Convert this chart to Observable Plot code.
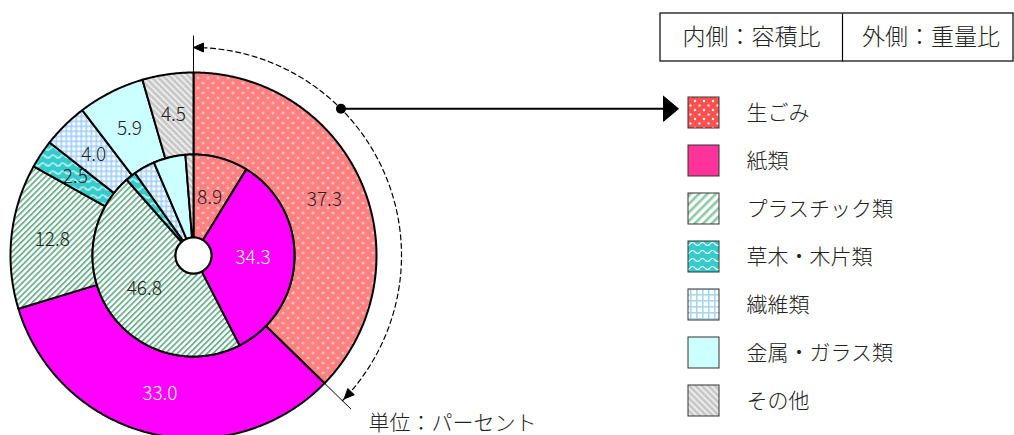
<!DOCTYPE html>
<html><head><meta charset="utf-8">
<script src="https://cdn.jsdelivr.net/npm/d3@7"></script>
<script src="https://cdn.jsdelivr.net/npm/@observablehq/plot@0.6"></script>
<style>
body{margin:0;background:#fff;}
#chart svg{display:block;}
g[aria-label="legend-text"] text{letter-spacing:0.5px;}
g[aria-label="header-text"] text{letter-spacing:2.5px;}
g[aria-label="unit-text"] text{letter-spacing:0.5px;}
g[aria-label="value-label"] text{letter-spacing:1.5px;}
</style></head><body><div id="chart"></div>
<script>
// ---- data ----
const categories = ["生ごみ", "紙類", "プラスチック類", "草木・木片類", "繊維類", "金属・ガラス類", "その他"];
const outerValues = [37.3, 33.0, 12.8, 2.5, 4.0, 5.9, 4.5];   // 外側：重量比
const innerValues = [8.9, 34.3, 46.8, 1.7, 3.5, 5.2, 1.3];    // 内側：容積比 (small slices estimated)
const outerLabels = ["37.3", "33.0", "12.8", "2.5", "4.0", "5.9", "4.5"];
const innerLabels = ["8.9", "34.3", "46.8", "", "", "", ""];
const headerTexts = ["内側：容積比", "外側：重量比"];
const unitText = "単位：パーセント";

// ---- styles ----
const ringFill = ["url(#pDots)", "#FF00FF", "url(#pStripeG)", "url(#pWave)", "url(#pGrid)", "#CCFFFF", "url(#pStripeGray)"];
const legendFill = ["url(#pDotsL)", "#FF3399", "url(#pStripeGL)", "url(#pWave)", "url(#pGridL)", "#CCFFFF", "url(#pStripeGray)"];
const labelInk = ["#222", "#fff", "#222", "#222", "#222", "#222", "#222"];

// ---- layout ----
const C = {x: 193, y: 255};
const R = {hole: 18, inner: 101, outer: 183, guide: 208, tick: 220};
const LG = {swX: 688, sw: 31, top: 97, step: 48, textX: 746};
const HB = {x1: 660, x2: 1013, y1: 13, y2: 61, div: 842};
const arrowY = 108.3, arrowTip = 678;

const pt = (a, r) => ({x: C.x + r * Math.sin(a), y: C.y - r * Math.cos(a)});

function ring(values, r0, r1, key) {
  const arcs = d3.pie().sort(null).value(d => d)(values);
  const rows = [], labels = [];
  arcs.forEach((a, i) => {
    const n = Math.max(2, Math.ceil((a.endAngle - a.startAngle) / (Math.PI / 360)));
    const poly = [];
    for (let k = 0; k <= n; k++) poly.push(pt(a.startAngle + (a.endAngle - a.startAngle) * k / n, r1));
    for (let k = n; k >= 0; k--) poly.push(pt(a.startAngle + (a.endAngle - a.startAngle) * k / n, r0));
    poly.push(poly[0]);
    poly.forEach(p => rows.push({id: key + i, x: p.x, y: p.y, fill: ringFill[i]}));
    const m = pt((a.startAngle + a.endAngle) / 2, (r0 + r1) / 2);
    labels.push({x: m.x, y: m.y, i});
  });
  return {arcs, rows, labels};
}

const outer = ring(outerValues, R.inner, R.outer, "o");
const inner = ring(innerValues, R.hole, R.inner, "i");

const outerLab = outer.labels.map(d => ({...d, text: outerLabels[d.i], ink: labelInk[d.i]})).filter(d => d.text);
const innerLab = inner.labels.map(d => ({...d, text: innerLabels[d.i], ink: labelInk[d.i]})).filter(d => d.text);

// guide arc over the first outer slice
const aEnd = outer.arcs[0].endAngle;
const guide = d3.range(0, 201).map(k => pt(aEnd * k / 200, R.guide));
const ticks = [0, aEnd].map(a => {const p = pt(a, R.outer), q = pt(a, R.tick); return {x1: p.x, y1: p.y, x2: q.x, y2: q.y};});
function head(a, dir, id) {
  const tip = pt(a, R.guide);
  const t = {x: Math.cos(a) * dir, y: Math.sin(a) * dir};
  const nrm = {x: Math.sin(a), y: -Math.cos(a)};
  const b = {x: tip.x - 10 * t.x, y: tip.y - 10 * t.y};
  return [tip, {x: b.x + 4.5 * nrm.x, y: b.y + 4.5 * nrm.y}, {x: b.x - 4.5 * nrm.x, y: b.y - 4.5 * nrm.y}, tip].map(p => ({...p, id}));
}
const heads = [...head(0, -1, "h0"), ...head(aEnd - 0.012, 1, "h1")];
const dotA = Math.acos((C.y - arrowY) / R.guide);
const dotP = pt(dotA, R.guide);
const arrowHead = [{x: arrowTip - 15, y: arrowY - 12.5}, {x: arrowTip, y: arrowY}, {x: arrowTip - 15, y: arrowY + 12.5}, {x: arrowTip - 15, y: arrowY - 12.5}];

const legend = categories.map((c, i) => ({
  name: c, x1: LG.swX, x2: LG.swX + LG.sw, y1: LG.top + i * LG.step, y2: LG.top + i * LG.step + LG.sw,
  yc: LG.top + i * LG.step + LG.sw / 2, fill: legendFill[i]
}));

const font = '"Noto Sans CJK JP", "Noto Sans", sans-serif';

const svg = Plot.plot({
  width: 1014, height: 435, margin: 0,
  x: {domain: [0, 1014], range: [0, 1014], axis: null},
  y: {domain: [0, 435], range: [0, 435], axis: null},
  color: {type: "identity"},
  style: {fontFamily: font, background: "#fff", overflow: "visible"},
  marks: [
    Plot.line(outer.rows, {x: "x", y: "y", z: "id", fill: "fill", stroke: "#000", strokeWidth: 2, curve: "linear"}),
    Plot.line(inner.rows, {x: "x", y: "y", z: "id", fill: "fill", stroke: "#000", strokeWidth: 2, curve: "linear"}),
    Plot.dot([C], {x: "x", y: "y", r: R.hole, fill: "#fff", stroke: "#000", strokeWidth: 2}),
    Plot.text(outerLab, {x: "x", y: "y", text: "text", fill: "ink", fontSize: 19, fontWeight: 300, fontFamily: font, ariaLabel: "value-label"}),
    Plot.text(innerLab, {x: "x", y: "y", text: "text", fill: "ink", fontSize: 19, fontWeight: 300, fontFamily: font, ariaLabel: "value-label"}),
    Plot.line(guide, {x: "x", y: "y", stroke: "#000", strokeWidth: 1.2, strokeDasharray: "5,3.5"}),
    Plot.link(ticks, {x1: "x1", y1: "y1", x2: "x2", y2: "y2", stroke: "#000", strokeWidth: 1}),
    Plot.line(heads, {x: "x", y: "y", z: "id", fill: "#000", stroke: "#000", strokeWidth: 1}),
    Plot.link([{x1: dotP.x, x2: arrowTip - 15, y: arrowY}], {x1: "x1", x2: "x2", y1: "y", y2: "y", stroke: "#000", strokeWidth: 2}),
    Plot.dot([dotP], {x: "x", y: "y", r: 5, fill: "#000"}),
    Plot.line(arrowHead, {x: "x", y: "y", fill: "#000", stroke: "#000", strokeWidth: 1}),
    Plot.rect(legend, {x1: "x1", x2: "x2", y1: "y1", y2: "y2", fill: "fill", stroke: "#333", strokeWidth: 1}),
    Plot.text(legend, {x: LG.textX, y: "yc", text: "name", textAnchor: "start", fontSize: 21, fontWeight: 300, fill: "#222", fontFamily: font, ariaLabel: "legend-text"}),
    Plot.rect([HB], {x1: "x1", x2: "x2", y1: "y1", y2: "y2", fill: "none", stroke: "#000", strokeWidth: 1.2}),
    Plot.link([HB], {x1: "div", x2: "div", y1: "y1", y2: "y2", stroke: "#000", strokeWidth: 1.2}),
    Plot.text(headerTexts, {x: (d, i) => i === 0 ? (HB.x1 + HB.div) / 2 : (HB.div + HB.x2) / 2 + 3, y: (HB.y1 + HB.y2) / 2, text: d => d, fontSize: 23, fontWeight: 300, fill: "#222", fontFamily: font, ariaLabel: "header-text"}),
    Plot.text([unitText], {x: 368, y: 423, text: d => d, textAnchor: "start", fontSize: 21, fontWeight: 300, fill: "#222", fontFamily: font, ariaLabel: "unit-text"})
  ]
});

const defs = `
<pattern id="pDots" width="10" height="10" patternUnits="userSpaceOnUse">
  <rect width="10" height="10" fill="#FF8080"/><circle cx="2.5" cy="2.5" r="1.1" fill="#fff"/><circle cx="7.5" cy="7.5" r="1.1" fill="#fff"/>
</pattern>
<pattern id="pDotsL" width="9" height="9" patternUnits="userSpaceOnUse">
  <rect width="9" height="9" fill="#FF5050"/><circle cx="2" cy="2" r="1.2" fill="#fff"/><circle cx="6.5" cy="6.5" r="1.2" fill="#fff" opacity="0.8"/>
</pattern>
<pattern id="pStripeG" width="4.2" height="4.2" patternUnits="userSpaceOnUse" patternTransform="rotate(45)">
  <rect width="4.2" height="4.2" fill="#fff"/><rect width="1.8" height="4.2" fill="#6DB28C"/>
</pattern>
<pattern id="pStripeGL" width="6" height="6" patternUnits="userSpaceOnUse" patternTransform="rotate(45)">
  <rect width="6" height="6" fill="#fff"/><rect width="2.6" height="6" fill="#8CC9A6"/>
</pattern>
<pattern id="pStripeGray" width="4.5" height="4.5" patternUnits="userSpaceOnUse" patternTransform="rotate(-45)">
  <rect width="4.5" height="4.5" fill="#C8C8C8"/><rect width="1.6" height="4.5" fill="#F2F2F2"/>
</pattern>
<pattern id="pWave" width="10" height="8" patternUnits="userSpaceOnUse">
  <rect width="10" height="8" fill="#33CCCC"/><path d="M0 4 Q2.5 1 5 4 T10 4" fill="none" stroke="#fff" stroke-width="1.2"/>
</pattern>
<pattern id="pGrid" width="5" height="5" patternUnits="userSpaceOnUse">
  <rect width="5" height="5" fill="#99CCFF"/><rect x="1.5" y="1.5" width="3.5" height="3.5" fill="#fff"/>
</pattern>
<pattern id="pGridL" width="6" height="6" patternUnits="userSpaceOnUse">
  <rect width="6" height="6" fill="#A8D8E8"/><rect x="1.6" y="1.6" width="4.4" height="4.4" fill="#fff"/>
</pattern>`;
d3.select(svg).insert("defs", ":first-child").html(defs);
document.getElementById("chart").appendChild(svg);
</script></body></html>
